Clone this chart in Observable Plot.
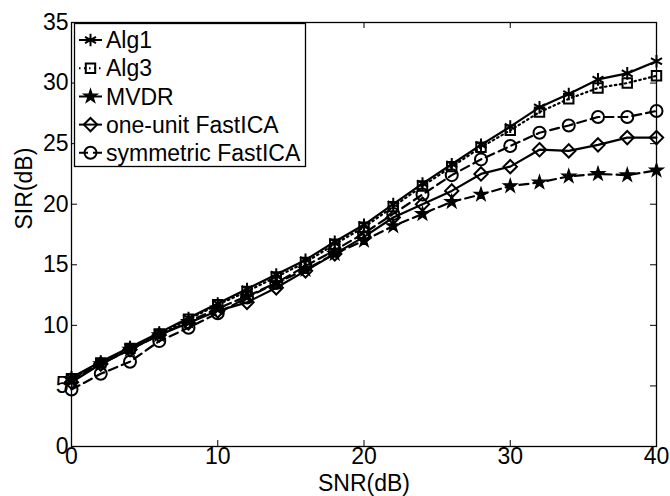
<!DOCTYPE html>
<html><head><meta charset="utf-8">
<script src="https://cdn.jsdelivr.net/npm/d3@7"></script>
<script src="https://cdn.jsdelivr.net/npm/@observablehq/plot@0.6"></script>
<style>body{margin:0;background:#fff} svg{display:block}</style>
</head><body><div id="chart"></div>
<script>
const snr = [0, 2, 4, 6, 8, 10, 12, 14, 16, 18, 20, 22, 24, 26, 28, 30, 32, 34, 36, 38, 40];
const alg1 = [5.7, 7.0, 8.2, 9.4, 10.6, 11.8, 13.0, 14.2, 15.4, 16.9, 18.3, 20.0, 21.7, 23.3, 24.9, 26.4, 28.0, 29.1, 30.3, 30.8, 31.8];
const alg3 = [5.6, 6.9, 8.1, 9.3, 10.5, 11.7, 12.8, 14.0, 15.2, 16.7, 18.1, 19.8, 21.5, 23.1, 24.7, 26.1, 27.6, 28.7, 29.6, 30.0, 30.6];
const mvdr = [5.5, 6.8, 8.0, 9.2, 10.3, 11.4, 12.4, 13.5, 14.6, 15.9, 17.0, 18.2, 19.2, 20.2, 20.8, 21.5, 21.8, 22.3, 22.5, 22.4, 22.8];
const oneUnit = [5.3, 6.8, 8.0, 9.2, 10.2, 11.2, 11.9, 13.1, 14.5, 15.9, 17.3, 18.9, 20.0, 21.1, 22.5, 23.1, 24.5, 24.4, 24.9, 25.5, 25.5];
const symmetric = [4.7, 6.0, 7.0, 8.7, 9.8, 11.0, 12.3, 13.5, 14.9, 16.2, 17.6, 19.2, 20.8, 22.4, 23.7, 24.8, 25.9, 26.5, 27.2, 27.2, 27.7];
const seriesNames = ["Alg1", "Alg3", "MVDR", "one-unit FastICA", "symmetric FastICA"];
const seriesValues = [alg1, alg3, mvdr, oneUnit, symmetric];
const xTicks = [0, 10, 20, 30, 40];
const yTicks = [0, 5, 10, 15, 20, 25, 30, 35];

const styleOf = {
  "Alg1": {symbol: "asterisk", r: 6, dash: null, fill: "none"},
  "Alg3": {symbol: "square2", r: 6, dash: "1.5,3.5", fill: "none"},
  "MVDR": {symbol: "star", r: 4.3, dash: "9,5", fill: "black"},
  "one-unit FastICA": {symbol: "diamond2", r: 6, dash: null, fill: "none"},
  "symmetric FastICA": {symbol: "circle", r: 6, dash: "9,5", fill: "none"}
};

const W = 670, H = 496, mL = 71, mR = 14, mT = 22, mB = 50;
const pW = W - mL - mR, pH = H - mT - mB;
const font = "'Liberation Sans', Arial, sans-serif";
const fs = 23;

const marks = [];
seriesNames.forEach((name, i) => {
  const rows = snr.map((x, j) => ({x, y: seriesValues[i][j]}));
  const s = styleOf[name];
  marks.push(Plot.line(rows, {x: "x", y: "y", stroke: "black", strokeWidth: 2.2, strokeDasharray: s.dash}));
  marks.push(Plot.dot(rows, {x: "x", y: "y", symbol: s.symbol, r: s.r, stroke: "black", fill: s.fill, strokeWidth: s.fill === "none" ? 2 : 1.2}));
});

const chart = Plot.plot({
  width: W, height: H,
  marginLeft: mL, marginRight: mR, marginTop: mT, marginBottom: mB,
  style: {fontSize: fs + "px", fontFamily: font, color: "black", background: "white"},
  x: {domain: [0, 40]},
  y: {domain: [0, 35]},
  marks: [
    ...marks,
    Plot.tickX(xTicks, {x: d => d, insetTop: pH - 6, stroke: "black"}),
    Plot.tickX(xTicks, {x: d => d, insetBottom: pH - 6, stroke: "black"}),
    Plot.tickY(yTicks, {y: d => d, insetRight: pW - 6, stroke: "black"}),
    Plot.tickY(yTicks, {y: d => d, insetLeft: pW - 6, stroke: "black"}),
    Plot.frame({stroke: "black", strokeWidth: 1.3}),
    Plot.axisX(xTicks, {tickSize: 0, tickPadding: 1, label: null, fontSize: fs}),
    Plot.axisY(yTicks, {tickSize: 0, tickPadding: 3, label: null, fontSize: fs}),
    Plot.text(["SNR(dB)"], {text: d => d, frameAnchor: "bottom", dy: 37, lineAnchor: "middle", fontSize: fs}),
    Plot.text(["SIR(dB)"], {text: d => d, frameAnchor: "left", dx: -47, dy: -5, rotate: -90, lineAnchor: "middle", fontSize: fs})
  ]
});

// legend inside the axes (top-left)
const svg = d3.select(chart);
const lg = svg.append("g").attr("font-family", font).attr("font-size", fs).attr("text-anchor", "start");
lg.append("rect").attr("x", 74.5).attr("y", 23.5).attr("width", 231).attr("height", 143)
  .attr("fill", "white").attr("stroke", "black").attr("stroke-width", 1.3);
const symMap = {asterisk: d3.symbolAsterisk, square2: d3.symbolSquare2, star: d3.symbolStar, diamond2: d3.symbolDiamond2, circle: d3.symbolCircle};
seriesNames.forEach((name, i) => {
  const s = styleOf[name];
  const cy = 40 + i * 28.2;
  lg.append("line").attr("x1", 79).attr("x2", 102).attr("y1", cy).attr("y2", cy)
    .attr("stroke", "black").attr("stroke-width", 2).attr("stroke-dasharray", s.dash);
  lg.append("path").attr("transform", `translate(90.5,${cy})`)
    .attr("d", d3.symbol(symMap[s.symbol], s.r * s.r * Math.PI)())
    .attr("fill", s.fill).attr("stroke", "black").attr("stroke-width", s.fill === "none" ? 2 : 1.2);
  lg.append("text").attr("x", 106).attr("y", cy).attr("dy", "0.36em").attr("text-anchor", "start").text(name);
});

document.getElementById("chart").appendChild(chart);
</script>
</body></html>
